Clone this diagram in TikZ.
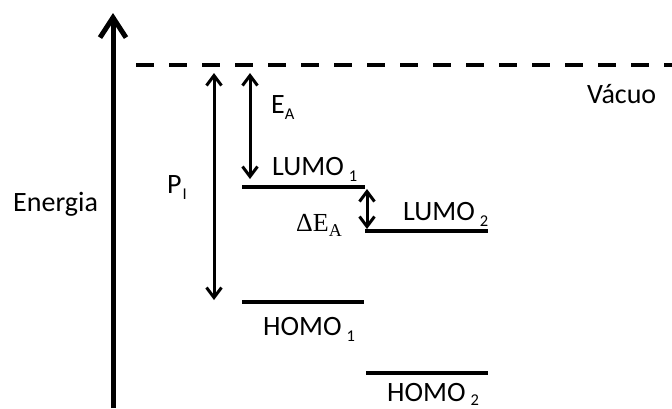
\documentclass[tikz,border=0pt]{standalone}
\usepackage{fontspec}
\setmainfont{Carlito}
\newfontfamily\deltafont{Liberation Serif}
\usetikzlibrary{arrows.meta}
% lowered small index, as in LUMO 1
\newcommand\lowidx[1]{\raisebox{-6pt}{\fontsize{16.5}{19}\selectfont #1}}
\tikzset{
  level/.style={line width=4pt},
  gap/.style={{Straight Barb[length=10pt,width=15pt]}-{Straight Barb[length=10pt,width=15pt]}, line width=3pt},
  lbl/.style={anchor=base west, inner sep=0pt, font=\fontsize{28}{32}\selectfont},
}
\begin{document}
\begin{tikzpicture}[x=1pt,y=-1pt]
    \useasboundingbox (0,0) rectangle (672,408);
    % energy axis and vacuum level
    \coordinate (axisbot) at (113,408);
    \coordinate (axistop) at (113,13);
    \draw [line width=5pt,-{Straight Barb[length=20pt,width=26pt]}] (axisbot) -- (axistop);
    \coordinate (vacL) at (136,65);
    \coordinate (vacR) at (672,65);
    \draw [line width=4pt,dash pattern=on 18pt off 15pt] (vacL) -- (vacR);
    % frontier orbitals
    \coordinate (lumo1a) at (242,187);
    \coordinate (lumo1b) at (365,187);
    \coordinate (lumo2a) at (365,231);
    \coordinate (lumo2b) at (488,231);
    \coordinate (homo1a) at (242,302);
    \coordinate (homo1b) at (364,302);
    \coordinate (homo2a) at (366,373);
    \coordinate (homo2b) at (488,373);
    \draw [level] (lumo1a) -- (lumo1b);
    \draw [level] (lumo2a) -- (lumo2b);
    \draw [level] (homo1a) -- (homo1b);
    \draw [level] (homo2a) -- (homo2b);
    % gaps
    \coordinate (pitop) at (214,73);
    \coordinate (pibot) at (214,300);
    \coordinate (eatop) at (250,73);
    \coordinate (eabot) at (250,179);
    \coordinate (detop) at (367,189);
    \coordinate (debot) at (367,229);
    \draw [gap] (pitop) -- (pibot);
    \draw [gap] (eatop) -- (eabot);
    \draw [gap] (detop) -- (debot);
    % labels
    \node [lbl] (energia) at (13,211) {Energia};
    \node [lbl] (vacuo) at (587,103) {Vácuo};
    \node [lbl] (pi) at (167,193) {P\kern1pt\lowidx{I}};
    \node [lbl] (ea) at (271,113) {E\lowidx{A}};
    \node [lbl] (lumo1) at (272,175) {LUMO\kern5pt\lowidx{1}};
    \node [lbl] (lumo2) at (403,220) {LUMO\kern5pt\lowidx{2}};
    \node [lbl] (homo1) at (263,335) {HOMO\kern5pt\lowidx{1}};
    \node [lbl] (homo2) at (387,401) {HOMO\kern5pt\raisebox{-4pt}{\fontsize{16.5}{19}\selectfont 2}};
    \node [lbl,font=\deltafont\fontsize{26}{30}\selectfont] (dea) at (296,231) {ΔE\raisebox{-5pt}{\fontsize{18}{20}\selectfont A}};
\end{tikzpicture}
\end{document}
